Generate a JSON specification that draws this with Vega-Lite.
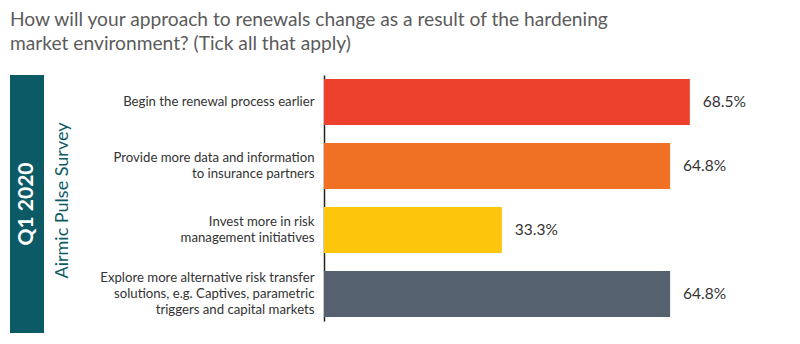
{
  "$schema": "https://vega.github.io/schema/vega-lite/v6.json",
  "padding": {"left": 10, "top": 10, "right": 5, "bottom": 5},
  "background": "white",
  "config": {"view": {"stroke": null}, "font": "Lato"},
  "title": {
    "text": ["How will your approach to renewals change as a result of the hardening", "market environment? (Tick all that apply)"],
    "anchor": "start",
    "font": "Lato",
    "fontSize": 19.2,
    "fontWeight": "normal",
    "color": "#5b5b5b",
    "lineHeight": 24,
    "offset": 21
  },
  "datasets": {
    "rows": [
      {"q": "Begin the renewal process earlier", "v": 0.685, "c": "a"},
      {"q": "Provide more data and information|to insurance partners", "v": 0.648, "c": "b"},
      {"q": "Invest more in risk|management initiatives", "v": 0.333, "c": "c"},
      {"q": "Explore more alternative risk transfer|solutions, e.g. Captives, parametric|triggers and capital markets", "v": 0.648, "c": "d"}
    ],
    "band": [{"t": "Q1 2020"}]
  },
  "hconcat": [
    {
      "width": 34,
      "height": 258,
      "data": {"name": "band"},
      "layer": [
        {"mark": {"type": "rect", "color": "#0b5a66"}, "encoding": {}},
        {
          "mark": {"type": "text", "angle": 270, "color": "white", "fontSize": 21, "fontWeight": "bold", "font": "Lato"},
          "encoding": {"text": {"field": "t"}}
        }
      ]
    },
    {
      "width": 454,
      "height": 246,
      "data": {"name": "rows"},
      "encoding": {
        "y": {
          "field": "q",
          "type": "nominal",
          "sort": null,
          "scale": {"paddingInner": 0.281, "paddingOuter": 0.0625},
          "axis": {
            "title": "Airmic Pulse Survey",
            "titleFont": "Lato",
            "titleFontSize": 18,
            "titleFontWeight": "normal",
            "titleColor": "#0b5a66",
            "titleX": -262,
            "titleY": 125,
            "titleBaseline": "middle",
            "titleAlign": "center",
            "titleAngle": 270,
            "labelExpr": "split(datum.label, '|')",
            "labelFont": "Lato",
            "labelFontSize": 13.2,
            "labelColor": "#333333",
            "labelLineHeight": 16,
            "labelPadding": 10,
            "labelLimit": 400,
            "labelOffset": {
              "condition": [
                {"test": "indexof(datum.value, 'Explore') === 0", "value": -16},
                {"test": "indexof(datum.value, '|') > 0", "value": -8}
              ],
              "value": 0
            },
            "ticks": false,
            "domainColor": "#222222",
            "domainWidth": 1.5
          }
        },
        "x": {
          "field": "v",
          "type": "quantitative",
          "scale": {"domain": [0, 0.85]},
          "axis": null
        }
      },
      "layer": [
        {
          "mark": {"type": "bar"},
          "encoding": {
            "color": {
              "field": "c",
              "type": "nominal",
              "scale": {"domain": ["a", "b", "c", "d"], "range": ["#ee412d", "#f17124", "#fdc60c", "#56616f"]},
              "legend": null
            }
          }
        },
        {
          "mark": {"type": "text", "align": "left", "dx": 13, "fontSize": 15.5, "color": "#333333", "font": "Lato"},
          "encoding": {"text": {"field": "v", "format": ".1%"}}
        }
      ]
    }
  ],
  "spacing": 9
}
